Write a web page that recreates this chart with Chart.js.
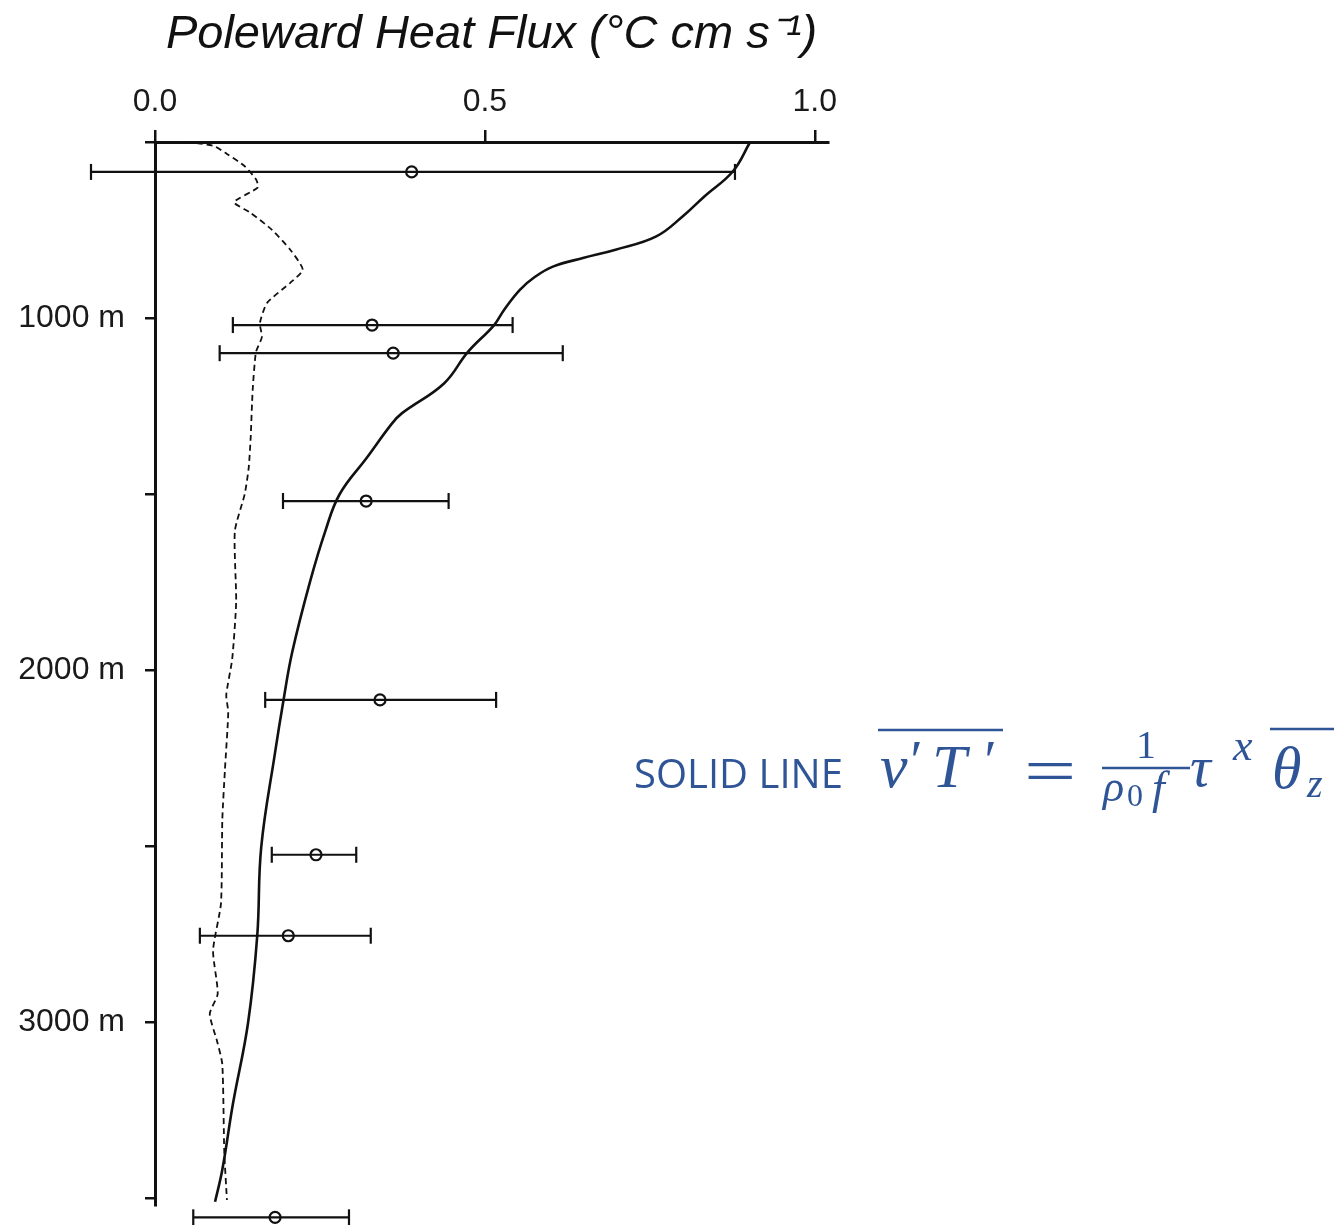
<!DOCTYPE html>
<html>
<head>
<meta charset="utf-8">
<title>Poleward Heat Flux</title>
<script src="https://cdn.jsdelivr.net/npm/chart.js"></script>
<style>
  html, body { margin: 0; padding: 0; background: #fff; }
  #wrap { position: relative; width: 1342px; height: 1225px; }
  #wrap canvas, #wrap svg { position: absolute; left: 0; top: 0; }
  #wrap svg { pointer-events: none; }
</style>
</head>
<body>
<div id="wrap">
  <canvas id="flux" width="1342" height="1225"></canvas>
  <svg width="1342" height="1225" xmlns="http://www.w3.org/2000/svg">
    <g fill="#2F5597" font-family="'Liberation Serif', serif">
      <text x="634" y="788" font-family="'Open Sans', sans-serif" font-size="40">SOLID LINE</text>
      <line x1="878" y1="730" x2="1003" y2="730" stroke="#2F5597" stroke-width="2.6"/>
      <text x="880" y="787" font-style="italic" font-size="62">v</text>
      <text x="907" y="780" font-style="italic" font-size="56">′</text>
      <text x="932" y="787" font-style="italic" font-size="62">T</text>
      <text x="981" y="780" font-style="italic" font-size="56">′</text>
      <text transform="translate(1024,792) scale(1.45,1)" font-size="64">=</text>
      <text x="1146" y="758" text-anchor="middle" font-size="40">1</text>
      <line x1="1102" y1="768" x2="1190" y2="768" stroke="#2F5597" stroke-width="2.4"/>
      <text x="1103" y="801" font-style="italic" font-size="44">ρ</text>
      <text x="1127" y="806" font-size="32">0</text>
      <text x="1152" y="803" font-style="italic" font-size="46">f</text>
      <text x="1190" y="786" font-style="italic" font-size="58">τ</text>
      <text x="1233" y="760" font-style="italic" font-size="44">x</text>
      <line x1="1270" y1="729" x2="1334" y2="729" stroke="#2F5597" stroke-width="2.6"/>
      <text x="1272" y="788" font-style="italic" font-size="60">θ</text>
      <text x="1307" y="797" font-style="italic" font-size="40">z</text>
    </g>
  </svg>
</div>
<script>
// Solid profile: depth (m) and flux (°C cm s⁻¹)
const solidDepth = [500, 583, 654, 711, 769, 806, 829, 854, 883, 920, 977, 1020, 1097, 1186, 1271, 1300,
                    1397, 1500, 1606, 1749, 1949, 2083, 2234, 2503, 2754, 3003, 3234, 3420, 3511];
const solidFlux  = [0.902, 0.876, 0.833, 0.800, 0.759, 0.698, 0.650, 0.603, 0.576, 0.553, 0.529, 0.514,
                    0.474, 0.438, 0.374, 0.359, 0.321, 0.280, 0.258, 0.235, 0.208, 0.195, 0.182, 0.161,
                    0.155, 0.141, 0.118, 0.102, 0.091];

// Dashed profile
const dashDepth = [500, 511, 534, 569, 606, 629, 671, 700, 749, 806, 863, 900, 957, 1014, 1054, 1097,
                   1206, 1340, 1426, 1500, 1606, 1806, 1969, 2071, 2120, 2283, 2426, 2663, 2797, 2920,
                   2977, 3054, 3120, 3369, 3506];
const dashFlux  = [0.048, 0.089, 0.109, 0.136, 0.153, 0.156, 0.120, 0.144, 0.177, 0.205, 0.224, 0.205,
                   0.170, 0.159, 0.162, 0.153, 0.148, 0.145, 0.142, 0.136, 0.121, 0.123, 0.117, 0.108,
                   0.111, 0.106, 0.102, 0.100, 0.088, 0.095, 0.083, 0.094, 0.102, 0.105, 0.109];

// Moored estimates with their ranges
const obsDepth = [585, 1020, 1100, 1520, 2085, 2525, 2755, 3555];
const obsMean  = [0.389, 0.329, 0.361, 0.320, 0.341, 0.244, 0.202, 0.182];
const obsLow   = [-0.097, 0.118, 0.098, 0.194, 0.167, 0.177, 0.068, 0.058];
const obsHigh  = [0.879, 0.542, 0.618, 0.445, 0.517, 0.305, 0.327, 0.294];

// Axis ticks
const fluxTicks  = [0.0, 0.5, 1.0];
const depthTicks = [500, 1000, 1500, 2000, 2500, 3000, 3500];
const depthTickLabels = { 1000: '1000 m', 2000: '2000 m', 3000: '3000 m' };

const INK = '#111111';
const SANS = "'Liberation Sans', Arial, Helvetica, sans-serif";

const toPoints = (xs, ys) => xs.map((x, i) => ({ x: x, y: ys[i] }));

const datasets = [
  {
    label: 'solid',
    data: toPoints(solidFlux, solidDepth),
    showLine: true,
    borderColor: INK,
    borderWidth: 2.6,
    pointRadius: 0,
    tension: 0.4,
    clip: false
  },
  {
    label: 'dashed',
    data: toPoints(dashFlux, dashDepth),
    showLine: true,
    borderColor: INK,
    borderWidth: 1.8,
    borderDash: [6, 4],
    pointRadius: 0,
    tension: 0.2,
    clip: false
  }
];

obsDepth.forEach((d, i) => {
  datasets.push({
    label: 'obs' + i,
    isRange: true,
    data: [
      { x: obsLow[i], y: d },
      { x: obsMean[i], y: d },
      { x: obsHigh[i], y: d }
    ],
    showLine: true,
    borderColor: INK,
    borderWidth: 2.2,
    pointStyle: ['line', 'circle', 'line'],
    rotation: [90, 0, 90],
    pointRadius: [8, 5.5, 8],
    pointBorderWidth: [2.2, 2.2, 2.2],
    pointBorderColor: INK,
    pointBackgroundColor: 'rgba(0,0,0,0)',
    clip: false
  });
});

// Range markers that sit beyond the plotting frame (left cap of the shallowest
// range, the deepest range) are skipped by the default point pass; draw them here.
const outerMarkers = {
  id: 'outerMarkers',
  afterDatasetsDraw(chart) {
    const a = chart.chartArea;
    const whole = { left: 0, top: 0, right: chart.width, bottom: chart.height };
    chart.data.datasets.forEach((ds, i) => {
      if (!ds.isRange) return;
      chart.getDatasetMeta(i).data.forEach((pt) => {
        const r = pt.options.radius;
        const inside = pt.x > a.left - r && pt.x < a.right + r && pt.y > a.top - r && pt.y < a.bottom + r;
        if (!inside) pt.draw(chart.ctx, whole);
      });
    });
  }
};

new Chart(document.getElementById('flux'), {
  type: 'scatter',
  data: { datasets: datasets },
  plugins: [outerMarkers],
  options: {
    responsive: false,
    animation: false,
    devicePixelRatio: 1,
    layout: { padding: { left: 0, right: 514, top: 0, bottom: 20 } },
    plugins: { legend: { display: false }, tooltip: { enabled: false } },
    scales: {
      x: {
        type: 'linear',
        position: 'top',
        min: 0,
        max: 1.02,
        afterBuildTicks: (s) => { s.ticks = fluxTicks.map(v => ({ value: v })); },
        afterFit: (s) => { s.height = 142; },
        ticks: {
          autoSkip: false,
          maxRotation: 0,
          padding: 9,
          color: '#1a1a1a',
          font: { family: SANS, size: 32 },
          callback: (v) => Number(v).toFixed(1)
        },
        grid: { drawOnChartArea: false, drawTicks: true, tickLength: 12, color: INK, lineWidth: 2.5 },
        border: { display: true, color: INK, width: 3 },
        title: {
          display: true,
          text: 'Poleward Heat Flux (°C cm s⁻¹)',
          color: INK,
          font: { family: SANS, size: 47, style: 'italic' },
          padding: { top: 7, bottom: 0 }
        }
      },
      y: {
        type: 'linear',
        position: 'left',
        reverse: true,
        min: 500,
        max: 3520,
        afterBuildTicks: (s) => { s.ticks = depthTicks.map(v => ({ value: v })); },
        afterFit: (s) => { s.width = 155; s.paddingTop = 0; s.paddingBottom = 0; },
        ticks: {
          autoSkip: false,
          padding: 20,
          color: '#1a1a1a',
          font: { family: SANS, size: 32 },
          callback: (v) => depthTickLabels[v] || ''
        },
        grid: { drawOnChartArea: false, drawTicks: true, tickLength: 10, color: INK, lineWidth: 2.5 },
        border: { display: true, color: INK, width: 3 }
      }
    }
  }
});
</script>
</body>
</html>
